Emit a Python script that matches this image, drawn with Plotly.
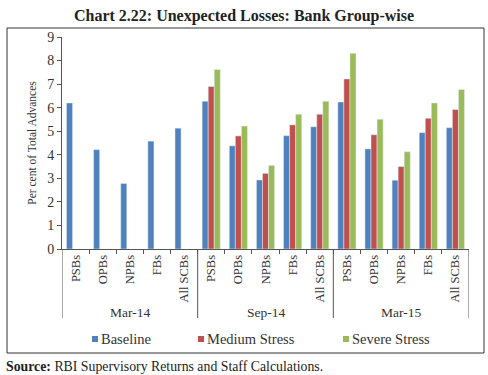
import plotly.graph_objects as go

periods = ["Mar-14"] * 5 + ["Sep-14"] * 5 + ["Mar-15"] * 5
groups = ["PSBs", "OPBs", "NPBs", "FBs", "All SCBs"] * 3
baseline = [6.20, 4.22, 2.78, 4.58, 5.13,
            6.27, 4.38, 2.93, 4.81, 5.19,
            6.24, 4.25, 2.92, 4.94, 5.15]
medium = [None, None, None, None, None,
          6.90, 4.80, 3.21, 5.27, 5.72,
          7.22, 4.85, 3.50, 5.55, 5.92]
severe = [None, None, None, None, None,
          7.62, 5.22, 3.55, 5.72, 6.27,
          8.31, 5.51, 4.13, 6.20, 6.77]
series_names = ["Baseline", "Medium Stress", "Severe Stress"]
series_colors = ["#4F81BD", "#C0504D", "#9BBB59"]
y_ticks = [0, 1, 2, 3, 4, 5, 6, 7, 8, 9]

FONT = "Liberation Serif"
pos = list(range(len(groups)))          # category slots
n = len(groups)

fig = go.Figure()
for name, vals, col in zip(series_names, [baseline, medium, severe], series_colors):
    fig.add_trace(go.Bar(x=pos, y=vals, name=name, marker_color=col, showlegend=False))

L, R, T, B = 62, 19, 37, 126
W, H = 488, 375
pw, ph = W - L - R, H - T - B

def px_x(p):
    return (p - L) / pw

def px_y(p):
    return (H - B - p) / ph

shapes = [dict(type="rect", xref="paper", yref="paper",
               x0=px_x(7), x1=px_x(484), y0=px_y(353), y1=px_y(28),
               line=dict(color="#333333", width=1), fillcolor="rgba(0,0,0,0)",
               layer="below")]
annotations = [dict(text="<b>Source:</b> RBI Supervisory Returns and Staff Calculations.",
                    xref="paper", yref="paper", x=px_x(4), y=px_y(366),
                    xanchor="left", yanchor="middle", showarrow=False,
                    font=dict(family=FONT, size=13.8, color="#222222"))]

# period group labels and dividers
unique_periods = list(dict.fromkeys(periods))
bounds = [-0.5]
for p in unique_periods:
    idx = [i for i, q in enumerate(periods) if q == p]
    annotations.append(dict(text=p, xref="x", yref="paper", x=(idx[0] + idx[-1]) / 2,
                            y=px_y(312), xanchor="center", yanchor="middle",
                            showarrow=False,
                            font=dict(family=FONT, size=13.5, color="#333333")))
    bounds.append(idx[-1] + 0.5)
for b in bounds:
    shapes.append(dict(type="line", xref="x", yref="paper", x0=b, x1=b,
                       y0=0, y1=px_y(318), line=dict(color="#555555", width=1)))

# manual legend
leg_x = [92, 198, 343]
leg_y = 339
for lx, name, col in zip(leg_x, series_names, series_colors):
    shapes.append(dict(type="rect", xref="paper", yref="paper",
                       x0=px_x(lx), x1=px_x(lx + 6), y0=px_y(leg_y + 3), y1=px_y(leg_y - 3),
                       line=dict(width=0), fillcolor=col))
    annotations.append(dict(text=name, xref="paper", yref="paper",
                            x=px_x(lx + 7), y=px_y(leg_y), xanchor="left", yanchor="middle",
                            showarrow=False,
                            font=dict(family=FONT, size=14.5, color="#333333")))

fig.update_layout(
    width=W, height=H,
    margin=dict(l=L, r=R, t=T, b=B),
    paper_bgcolor="white", plot_bgcolor="white",
    barmode="group", bargap=0.33, bargroupgap=0,
    font=dict(family=FONT, color="#333333", size=12),
    showlegend=False,
    title=dict(text="<b>Chart 2.22: Unexpected Losses: Bank Group-wise</b>",
               x=0.5, xanchor="center", y=1 - 15 / H, yanchor="middle",
               font=dict(family=FONT, size=16, color="#222222")),
    xaxis=dict(range=[-0.5, n - 0.5], tickvals=pos, ticktext=groups,
               showline=True, linecolor="#555555", linewidth=1,
               ticks="", tickangle=-90,
               tickfont=dict(family=FONT, size=12.5, color="#333333"),
               minor=dict(tickvals=[i + 0.5 for i in pos[:-1]], ticks="outside",
                          ticklen=4, tickcolor="#555555", showgrid=False),
               showgrid=False, zeroline=False, automargin=False),
    yaxis=dict(range=[0, 9], tickvals=y_ticks, showline=True, linecolor="#555555",
               linewidth=1, ticks="outside", ticklen=4, tickcolor="#555555",
               showgrid=False, zeroline=False,
               tickfont=dict(family=FONT, size=14, color="#333333"),
               title=dict(text="Per cent of Total Advances",
                          font=dict(family=FONT, size=11.5, color="#333333"),
                          standoff=8)),
    shapes=shapes,
    annotations=annotations,
)

fig.write_html("out.html", config={"displayModeBar": False},
               post_script="document.body.style.margin='0px';")
